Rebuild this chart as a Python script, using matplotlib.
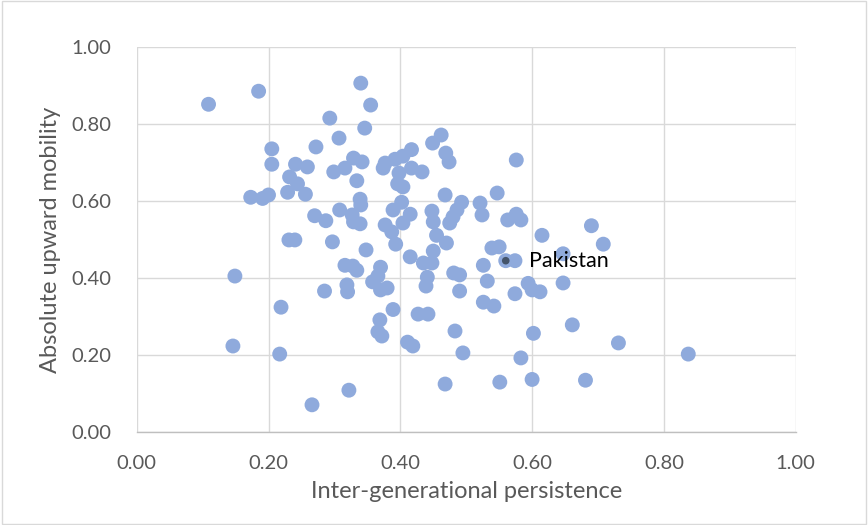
import matplotlib
matplotlib.use("Agg")
import matplotlib.pyplot as plt
from matplotlib.patches import Rectangle

plt.rcParams['font.family'] = ['Lato', 'DejaVu Sans']

# inter-generational persistence (x) and absolute upward mobility (y)
persistence = [
    0.109, 0.185, 0.149, 0.146, 0.173, 0.191, 0.200, 0.205, 0.205, 0.219,
    0.217, 0.231, 0.240, 0.340, 0.355, 0.293, 0.346, 0.307, 0.272, 0.241,
    0.259, 0.329, 0.342, 0.316, 0.299, 0.334, 0.232, 0.244, 0.229, 0.256,
    0.339, 0.340, 0.308, 0.270, 0.287, 0.327, 0.329, 0.339, 0.297, 0.348,
    0.462, 0.449, 0.469, 0.474, 0.417, 0.404, 0.392, 0.377, 0.374, 0.417,
    0.433, 0.398, 0.396, 0.404, 0.468, 0.402, 0.389, 0.415, 0.404, 0.377,
    0.387, 0.393, 0.448, 0.450, 0.455, 0.470, 0.493, 0.486, 0.480, 0.475,
    0.521, 0.524, 0.450, 0.415, 0.576, 0.547, 0.563, 0.576, 0.583, 0.615,
    0.690, 0.708, 0.539, 0.550, 0.574, 0.647, 0.526, 0.532, 0.647, 0.435,
    0.448, 0.441, 0.439, 0.481, 0.490, 0.490, 0.526, 0.542, 0.574, 0.594,
    0.600, 0.612, 0.661, 0.602, 0.731, 0.583, 0.600, 0.681, 0.551, 0.468,
    0.495, 0.483, 0.411, 0.419, 0.427, 0.442, 0.389, 0.837, 0.316, 0.328,
    0.334, 0.319, 0.320, 0.285, 0.370, 0.366, 0.358, 0.370, 0.380, 0.369,
    0.366, 0.372, 0.322, 0.266, 0.560,
]
mobility = [
    0.852, 0.886, 0.405, 0.223, 0.610, 0.607, 0.616, 0.736, 0.696, 0.324,
    0.202, 0.499, 0.499, 0.907, 0.850, 0.816, 0.790, 0.764, 0.741, 0.696,
    0.689, 0.712, 0.702, 0.686, 0.676, 0.653, 0.663, 0.645, 0.623, 0.618,
    0.605, 0.590, 0.577, 0.562, 0.549, 0.564, 0.546, 0.541, 0.494, 0.473,
    0.772, 0.751, 0.725, 0.702, 0.734, 0.717, 0.709, 0.699, 0.686, 0.686,
    0.676, 0.673, 0.645, 0.637, 0.616, 0.597, 0.577, 0.566, 0.543, 0.538,
    0.520, 0.488, 0.574, 0.546, 0.511, 0.491, 0.597, 0.577, 0.559, 0.543,
    0.595, 0.564, 0.470, 0.455, 0.707, 0.621, 0.551, 0.566, 0.551, 0.511,
    0.536, 0.488, 0.478, 0.481, 0.445, 0.463, 0.433, 0.392, 0.387, 0.439,
    0.439, 0.402, 0.379, 0.413, 0.408, 0.366, 0.337, 0.327, 0.359, 0.386,
    0.369, 0.364, 0.278, 0.256, 0.231, 0.192, 0.136, 0.134, 0.129, 0.124,
    0.205, 0.262, 0.233, 0.223, 0.306, 0.306, 0.318, 0.202, 0.433, 0.431,
    0.420, 0.382, 0.364, 0.366, 0.428, 0.405, 0.390, 0.369, 0.374, 0.291,
    0.260, 0.249, 0.108, 0.070, 0.445,
]

highlight_name = "Pakistan"
highlight_x = [0.560]
highlight_y = [0.445]

ticks = [0.0, 0.2, 0.4, 0.6, 0.8, 1.0]

fig = plt.figure(figsize=(8.68, 5.25), dpi=100)
ax = fig.add_axes([0.1575, 0.1777, 0.7592, 0.732])

ax.scatter(persistence, mobility, s=115, color='#8FAADC', edgecolors='none', zorder=3)
ax.scatter(highlight_x, highlight_y, s=30, color='#44546A', edgecolors='none', zorder=4)
ax.annotate(highlight_name, (highlight_x[0], highlight_y[0]), xytext=(17, 0),
            textcoords='offset points', va='center', ha='left',
            fontsize=15.5, color='#000000', zorder=5)

ax.set_xlim(0, 1)
ax.set_ylim(0, 1)
ax.set_xticks(ticks)
ax.set_yticks(ticks)
ax.set_xticklabels([f"{t:.2f}" for t in ticks])
ax.set_yticklabels([f"{t:.2f}" for t in ticks])
ax.grid(True, color='#D9D9D9', linewidth=1.0, zorder=0)
ax.set_axisbelow(True)
for side in ['top', 'right', 'left']:
    ax.spines[side].set_visible(False)
ax.spines['bottom'].set_color('#BFBFBF')
ax.spines['bottom'].set_linewidth(1.0)
ax.tick_params(axis='x', length=0, labelsize=14.5, colors='#595959', pad=17)
ax.tick_params(axis='y', length=0, labelsize=14.5, colors='#595959', pad=18)

ax.set_xlabel("Inter-generational persistence", fontsize=17, color='#595959', labelpad=6)
ax.set_ylabel("Absolute upward mobility", fontsize=17, color='#595959', labelpad=8)

# chart area border
fig.patches.append(Rectangle((0.002, 0.002), 0.996, 0.996, transform=fig.transFigure,
                             fill=False, edgecolor='#D9D9D9', linewidth=1.0))

fig.savefig("out.png", dpi=100)
